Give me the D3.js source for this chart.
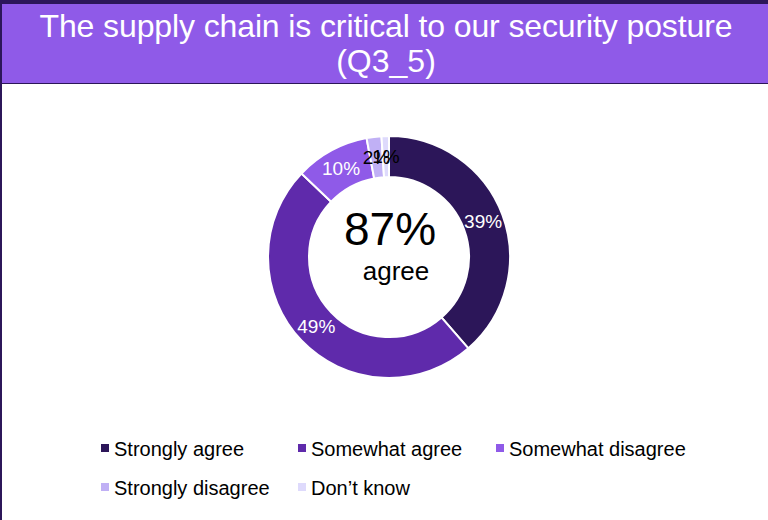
<!DOCTYPE html>
<html>
<head>
<meta charset="utf-8">
<script src="https://cdn.jsdelivr.net/npm/d3@7"></script>
<style>
  body { margin: 0; background: #fff; }
  svg { display: block; font-family: "Liberation Sans", Arial, sans-serif; }
</style>
</head>
<body>
<div id="chart"></div>
<script>
// Chart data
const categories = ["Strongly agree", "Somewhat agree", "Somewhat disagree", "Strongly disagree", "Don\u2019t know"];
const values = [39, 49, 10, 2, 1];
const colors = ["#2c1659", "#5f2aab", "#8f5ae8", "#c0b0f5", "#dedafc"];
const labelColors = ["#fff", "#fff", "#fff", "#000", "#000"];
const titleLines = ["The supply chain is critical to our security posture", "(Q3_5)"];
const centerValue = "87%";
const centerLabel = "agree";

let WIDTH = 768, HEIGHT = 520;

let svg = d3.select("#chart").append("svg")
    .attr("width", WIDTH)
    .attr("height", HEIGHT);

// frame + title band
svg.append("rect").attr("x", 0).attr("y", 0).attr("width", WIDTH).attr("height", 84).attr("fill", "#2c1659");
svg.append("rect").attr("x", 0).attr("y", 84).attr("width", 2).attr("height", HEIGHT - 84).attr("fill", "#2c1659");
svg.append("rect").attr("x", 2).attr("y", 4).attr("width", WIDTH - 2).attr("height", 79).attr("fill", "#8f5ae8");

svg.selectAll("text.title")
    .data(titleLines)
    .enter()
    .append("text")
    .attr("class", "title")
    .attr("x", 386)
    .attr("y", (d, i) => 37 + i * 35)
    .attr("text-anchor", "middle")
    .attr("fill", "#fff")
    .attr("font-size", 32)
    .attr("textLength", (d, i) => i === 0 ? 693 : null)
    .text(d => d);

// donut
const cx = 389, cy = 257, outerR = 121, innerR = 80;
const pie = d3.pie().sort(null).value(d => d)(values);
const arc = d3.arc().innerRadius(innerR).outerRadius(outerR);

let g = svg.append("g").attr("transform", `translate(${cx},${cy})`);

g.selectAll("path")
    .data(pie)
    .enter()
    .append("path")
    .attr("d", arc)
    .attr("fill", (d, i) => colors[i])
    .attr("stroke", "#fff")
    .attr("stroke-width", 2);

g.selectAll("text.lbl")
    .data(pie)
    .enter()
    .append("text")
    .attr("class", "lbl")
    .attr("x", d => arc.centroid(d)[0])
    .attr("y", d => arc.centroid(d)[1])
    .attr("dy", "0.35em")
    .attr("text-anchor", "middle")
    .attr("fill", (d, i) => labelColors[i])
    .attr("font-size", 19)
    .text(d => d.data + "%");

g.append("text")
    .attr("x", 1).attr("y", -12)
    .attr("text-anchor", "middle")
    .attr("font-size", 46)
    .attr("fill", "#000")
    .text(centerValue);

g.append("text")
    .attr("x", 7).attr("y", 23)
    .attr("text-anchor", "middle")
    .attr("font-size", 26)
    .attr("fill", "#000")
    .text(centerLabel);

// legend
const legendX = [101, 298, 496];
let legend = svg.selectAll("g.leg")
    .data(categories)
    .enter()
    .append("g")
    .attr("class", "leg")
    .attr("transform", (d, i) => `translate(${legendX[i % 3]},${449 + Math.floor(i / 3) * 39})`);

legend.append("rect")
    .attr("x", 0).attr("y", -5)
    .attr("width", 8).attr("height", 8)
    .attr("fill", (d, i) => colors[i]);

legend.append("text")
    .attr("x", 13).attr("y", 0)
    .attr("dy", "0.35em")
    .attr("font-size", 20)
    .attr("fill", "#000")
    .text(d => d);
</script>
</body>
</html>
